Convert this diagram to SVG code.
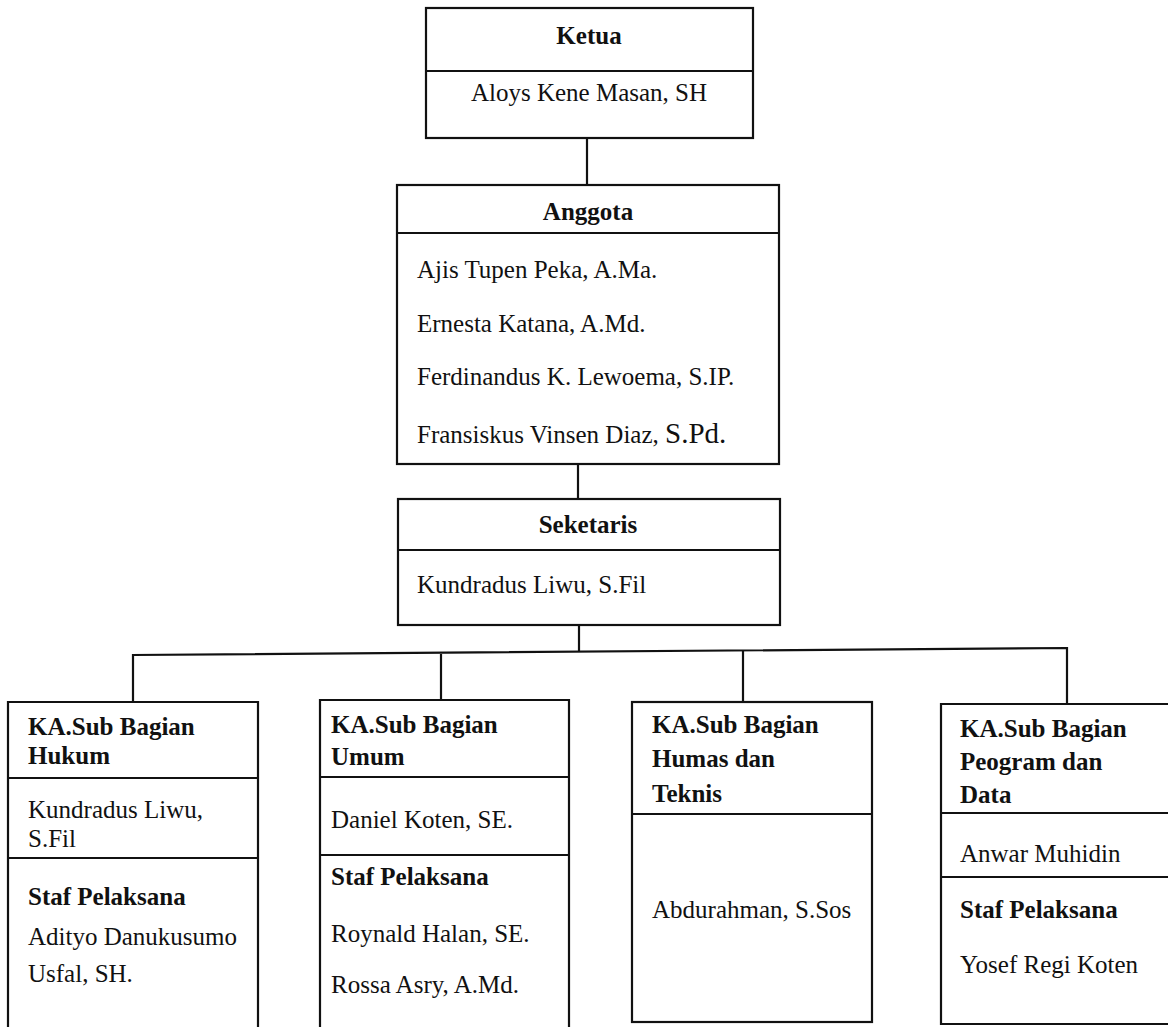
<svg xmlns="http://www.w3.org/2000/svg" width="1168" height="1027" viewBox="0 0 1168 1027">
<style>
.box{fill:#fff;stroke:#111;stroke-width:2.2}
.ln{stroke:#111;stroke-width:2.2;fill:none}
.t{font-family:"Liberation Serif","Times New Roman",serif;font-size:25px;fill:#111}
.b{font-weight:bold}
.c{text-anchor:middle}
</style>
<rect width="1168" height="1027" fill="#fff"/>
<g id="connectors">
<line class="ln" x1="587" y1="138" x2="587" y2="185"/>
<line class="ln" x1="578" y1="464" x2="578" y2="499"/>
<line class="ln" x1="579" y1="625" x2="579" y2="652"/>
<polyline class="ln" points="133,702 133,655 1067,648 1067,704"/>
<line class="ln" x1="441" y1="654" x2="441" y2="700"/>
<line class="ln" x1="743" y1="651" x2="743" y2="702"/>
</g>
<g id="ketua">
<rect class="box" x="426" y="8" width="327" height="130"/>
<line class="ln" x1="426" y1="71" x2="753" y2="71"/>
<text class="t b c" x="589" y="44">Ketua</text>
<text class="t c" x="589" y="101">Aloys Kene Masan, SH</text>
</g>
<g id="anggota">
<rect class="box" x="397" y="185" width="382" height="279"/>
<line class="ln" x1="397" y1="233" x2="779" y2="233"/>
<text class="t b c" x="588" y="220">Anggota</text>
<text class="t" x="417" y="278">Ajis Tupen Peka, A.Ma.</text>
<text class="t" x="417" y="332">Ernesta Katana, A.Md.</text>
<text class="t" x="417" y="385">Ferdinandus K. Lewoema, S.IP.</text>
<text class="t" x="417" y="443">Fransiskus Vinsen Diaz, <tspan font-size="29">S.Pd.</tspan></text>
</g>
<g id="seketaris">
<rect class="box" x="398" y="499" width="382" height="126"/>
<line class="ln" x1="398" y1="550" x2="780" y2="550"/>
<text class="t b c" x="588" y="533">Seketaris</text>
<text class="t" x="417" y="593">Kundradus Liwu, S.Fil</text>
</g>
<g id="hukum">
<polyline class="ln" points="8,1030 8,702 258,702 258,1030"/>
<line class="ln" x1="8" y1="778" x2="258" y2="778"/>
<line class="ln" x1="8" y1="858" x2="258" y2="858"/>
<text class="t b" x="28" y="735">KA.Sub Bagian</text>
<text class="t b" x="28" y="764">Hukum</text>
<text class="t" x="28" y="818">Kundradus Liwu,</text>
<text class="t" x="28" y="847">S.Fil</text>
<text class="t b" x="28" y="905">Staf Pelaksana</text>
<text class="t" x="28" y="945">Adityo Danukusumo</text>
<text class="t" x="28" y="982">Usfal, SH.</text>
</g>
<g id="umum">
<polyline class="ln" points="320,1030 320,700 569,700 569,1030"/>
<line class="ln" x1="320" y1="777" x2="569" y2="777"/>
<line class="ln" x1="320" y1="855" x2="569" y2="855"/>
<text class="t b" x="331" y="733">KA.Sub Bagian</text>
<text class="t b" x="331" y="765">Umum</text>
<text class="t" x="331" y="828">Daniel Koten, SE.</text>
<text class="t b" x="331" y="885">Staf Pelaksana</text>
<text class="t" x="331" y="942">Roynald Halan, SE.</text>
<text class="t" x="331" y="993">Rossa Asry, A.Md.</text>
</g>
<g id="humas">
<rect class="box" x="632" y="702" width="240" height="320"/>
<line class="ln" x1="632" y1="814" x2="872" y2="814"/>
<text class="t b" x="652" y="733">KA.Sub Bagian</text>
<text class="t b" x="652" y="767">Humas dan</text>
<text class="t b" x="652" y="802">Teknis</text>
<text class="t" x="652" y="918">Abdurahman, S.Sos</text>
</g>
<g id="program">
<polyline class="ln" points="1170,704 941,704 941,1024 1170,1024"/>
<line class="ln" x1="941" y1="813" x2="1170" y2="813"/>
<line class="ln" x1="941" y1="877" x2="1170" y2="877"/>
<text class="t b" x="960" y="737">KA.Sub Bagian</text>
<text class="t b" x="960" y="770">Peogram dan</text>
<text class="t b" x="960" y="803">Data</text>
<text class="t" x="960" y="862">Anwar Muhidin</text>
<text class="t b" x="960" y="918">Staf Pelaksana</text>
<text class="t" x="960" y="973">Yosef Regi Koten</text>
</g>
</svg>
